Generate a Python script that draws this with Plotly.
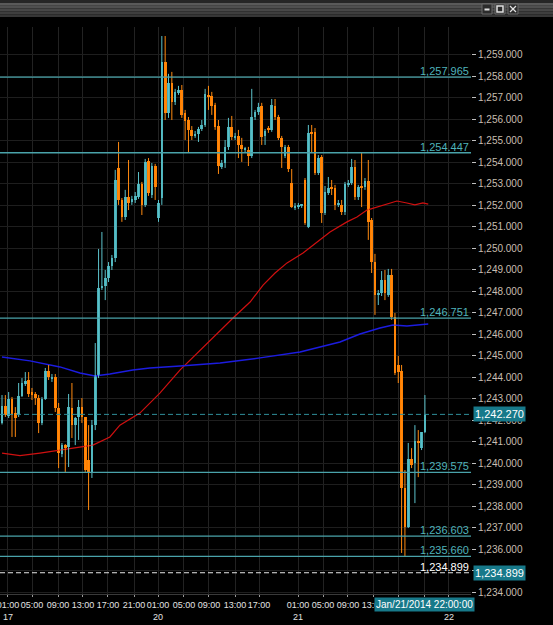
import plotly.graph_objects as go

# 30-minute bars (bar index on x)
bar_open = [
    1241.87, 1242.66, 1242.19, 1242.98, 1242.33, 1242.24, 1243.12, 1243.68, 1243.87, 1243.31,
    1243.22, 1243.03, 1241.87, 1242.98, 1244.29, 1243.92, 1244.01, 1242.57, 1240.42, 1240.84,
    1240.75, 1242.57, 1241.77, 1242.15, 1242.61, 1242.15, 1240.14, 1239.59, 1241.77, 1244.10,
    1248.15, 1248.25, 1248.62, 1249.18, 1249.55, 1253.74, 1252.25, 1251.46, 1252.39, 1252.16,
    1252.25, 1252.39, 1252.99, 1252.02, 1254.07, 1252.48, 1253.83, 1251.41, 1252.34, 1258.67,
    1256.30, 1257.70, 1256.81, 1257.23, 1257.37, 1256.30, 1255.97, 1255.51, 1255.23, 1255.32,
    1255.55, 1255.74, 1257.14, 1257.09, 1256.67, 1255.69, 1253.79, 1253.97, 1254.72, 1255.65,
    1255.18, 1255.23, 1254.81, 1254.58, 1254.58, 1254.30, 1256.11, 1256.35, 1256.63, 1255.23,
    1255.55, 1255.51, 1256.63, 1256.11, 1255.14, 1254.30, 1254.72, 1253.04, 1251.88, 1251.92,
    1251.97, 1253.18, 1250.99, 1255.37, 1255.42, 1253.51, 1254.25, 1251.64, 1252.58, 1252.81,
    1252.81, 1252.02, 1252.02, 1251.69, 1252.95, 1253.04, 1253.79, 1252.39, 1252.85, 1252.85,
    1253.13, 1251.32, 1249.36, 1247.83, 1247.92, 1248.53, 1247.83, 1248.76, 1246.80, 1244.57,
    1244.29, 1238.84, 1237.03, 1240.19, 1240.01, 1241.03, 1240.70, 1241.45,
]
bar_high = [
    1243.17, 1243.17, 1243.31, 1243.08, 1242.61, 1243.73, 1243.96, 1244.24, 1244.24, 1243.50,
    1243.31, 1243.17, 1243.08, 1244.43, 1244.57, 1244.15, 1244.15, 1242.80, 1240.94, 1240.89,
    1243.22, 1243.73, 1242.15, 1242.94, 1243.03, 1242.15, 1241.77, 1242.01, 1245.59, 1249.97,
    1250.76, 1248.99, 1249.36, 1249.69, 1253.65, 1254.95, 1252.34, 1252.72, 1254.11, 1252.44,
    1252.62, 1253.55, 1253.09, 1254.16, 1254.20, 1253.97, 1253.93, 1252.25, 1259.88, 1259.88,
    1258.12, 1258.21, 1257.42, 1257.56, 1257.60, 1256.44, 1256.11, 1255.69, 1255.46, 1255.65,
    1255.97, 1257.42, 1257.56, 1257.28, 1256.77, 1255.97, 1254.11, 1255.04, 1256.07, 1256.16,
    1255.37, 1255.51, 1255.14, 1254.72, 1254.72, 1257.42, 1256.44, 1256.77, 1256.77, 1255.55,
    1255.69, 1256.95, 1256.95, 1256.21, 1255.23, 1254.81, 1254.81, 1253.69, 1252.11, 1252.11,
    1252.06, 1253.27, 1255.74, 1255.74, 1255.60, 1254.34, 1254.34, 1252.90, 1253.32, 1253.18,
    1252.95, 1252.25, 1252.25, 1253.09, 1253.18, 1254.16, 1254.11, 1252.95, 1254.44, 1253.27,
    1254.11, 1251.41, 1249.74, 1248.06, 1248.94, 1248.99, 1249.04, 1249.04, 1246.99, 1244.99,
    1244.57, 1239.68, 1240.94, 1240.70, 1241.77, 1241.54, 1241.45, 1243.17,
]
bar_low = [
    1241.80, 1242.15, 1242.10, 1241.22, 1241.22, 1242.15, 1243.08, 1243.59, 1243.08, 1242.94,
    1242.71, 1241.40, 1241.77, 1242.94, 1243.87, 1243.78, 1242.38, 1239.77, 1240.28, 1239.59,
    1239.82, 1241.17, 1240.84, 1241.08, 1241.87, 1239.59, 1237.82, 1239.31, 1241.54, 1243.96,
    1248.06, 1247.59, 1248.43, 1248.99, 1249.36, 1252.02, 1251.23, 1251.32, 1251.78, 1252.02,
    1252.11, 1252.30, 1251.55, 1251.92, 1252.44, 1252.34, 1252.25, 1251.23, 1252.02, 1255.97,
    1256.07, 1255.97, 1256.67, 1257.14, 1256.07, 1255.04, 1254.44, 1255.04, 1255.14, 1254.95,
    1255.46, 1255.65, 1256.44, 1256.21, 1255.51, 1253.46, 1253.69, 1253.74, 1254.58, 1255.04,
    1255.04, 1254.20, 1254.02, 1254.48, 1253.83, 1254.20, 1255.97, 1256.21, 1254.81, 1254.81,
    1255.37, 1255.42, 1255.97, 1255.04, 1253.74, 1254.20, 1253.55, 1251.88, 1251.78, 1251.83,
    1251.88, 1251.09, 1250.94, 1254.48, 1253.41, 1253.41, 1251.18, 1251.55, 1252.48, 1252.48,
    1251.78, 1251.92, 1251.55, 1251.55, 1252.85, 1252.95, 1252.25, 1252.25, 1251.92, 1252.72,
    1250.39, 1248.85, 1246.90, 1247.36, 1247.78, 1247.59, 1247.74, 1246.67, 1244.10, 1243.73,
    1235.82, 1235.66, 1236.98, 1239.77, 1238.14, 1239.35, 1240.61, 1241.40,
]
bar_close = [
    1242.66, 1242.24, 1242.98, 1242.24, 1242.10, 1243.12, 1243.73, 1243.82, 1243.22, 1243.17,
    1243.03, 1241.87, 1242.98, 1244.29, 1244.01, 1244.01, 1242.57, 1240.47, 1240.84, 1240.75,
    1242.61, 1241.77, 1242.10, 1242.61, 1242.15, 1239.68, 1239.59, 1241.77, 1244.10, 1248.15,
    1248.25, 1248.62, 1249.18, 1249.55, 1253.18, 1252.25, 1251.46, 1252.39, 1252.11, 1252.30,
    1252.44, 1252.99, 1252.02, 1254.02, 1252.58, 1253.83, 1252.85, 1252.11, 1258.67, 1256.30,
    1257.70, 1256.81, 1257.28, 1257.37, 1256.21, 1255.93, 1255.51, 1255.23, 1255.32, 1255.55,
    1255.74, 1257.18, 1257.04, 1256.63, 1255.65, 1253.83, 1253.97, 1254.72, 1255.65, 1255.18,
    1255.23, 1254.81, 1254.62, 1254.62, 1254.30, 1256.11, 1256.35, 1256.58, 1255.18, 1255.46,
    1255.51, 1256.67, 1256.11, 1255.14, 1254.72, 1254.72, 1253.69, 1251.92, 1251.97, 1252.02,
    1252.02, 1251.18, 1255.37, 1255.32, 1253.51, 1254.20, 1251.64, 1252.62, 1252.81, 1252.76,
    1252.02, 1252.11, 1251.69, 1252.99, 1253.04, 1253.79, 1252.39, 1252.85, 1252.81, 1253.13,
    1251.23, 1249.36, 1247.83, 1247.92, 1248.53, 1247.92, 1248.76, 1246.80, 1244.20, 1244.24,
    1238.84, 1237.03, 1240.19, 1239.91, 1241.03, 1240.94, 1241.45, 1242.27,
]

# moving averages (bar index, value)
red_ma_bar = [0, 5.4, 11.4, 17.4, 22.5, 27.3, 32.4, 35.4, 41.4, 47.4, 53.5, 59.5, 65.5, 70,
              74.5, 78.4, 82, 85.6, 90.4, 93.1, 98.5, 103.6, 106.6, 109.6, 112.6, 115.6,
              118.6, 121.6, 124, 126.4, 128]
red_ma = [1240.47, 1240.35, 1240.47, 1240.61, 1240.75, 1240.84, 1241.22, 1241.77, 1242.33,
          1243.26, 1244.34, 1245.27, 1246.20, 1246.85, 1247.50, 1248.29, 1248.85, 1249.32,
          1249.78, 1250.11, 1250.76, 1251.23, 1251.46, 1251.78, 1251.92, 1252.06, 1252.20,
          1252.11, 1252.02, 1252.11, 1252.06]
blue_ma_bar = [0, 8.4, 17.4, 23.4, 27.9, 32.4, 39.3, 44.4, 53.5, 65.5, 77.5, 89.5, 101.5,
               107.5, 113.5, 117.4, 121.6, 128]
blue_ma = [1244.94, 1244.76, 1244.48, 1244.20, 1244.06, 1244.15, 1244.34, 1244.43, 1244.52,
           1244.66, 1244.90, 1245.17, 1245.64, 1246.01, 1246.29, 1246.43, 1246.38, 1246.48]

level_lines = [1257.965, 1254.447, 1246.751, 1239.575, 1236.603, 1235.660]
last_price = 1242.270
marker_price = 1234.899
price_ticks = list(range(1234, 1260))

tick_bars = [1.80, 9.01, 16.82, 24.32, 31.83, 39.64, 46.85, 54.65, 62.16, 69.97, 77.18,
             88.89, 96.40, 103.90, 111.41, 118.92, 126.73, 134.23]
tick_text = ['01:00<br>17', '05:00', '09:00', '13:00', '17:00', '21:00',
             '01:00<br>20', '05:00', '09:00', '13:00', '17:00',
             '01:00<br>21', '05:00', '09:00', '13:00', '17:00', '21:00', '01:00<br>22']
cursor_bar = 126.73
cursor_text = 'Jan/21/2014 22:00:00'

TEAL = '#4aaeb6'
LEVEL = '#4aa3aa'
ORANGE = '#ff8000'
FONT = 'Liberation Sans, Arial, sans-serif'

PLOT_W, PLOT_TOP, PLOT_BOTTOM = 471, 27, 594


def px(x):
    return x / PLOT_W


def py(y):
    return (PLOT_BOTTOM - y) / (PLOT_BOTTOM - PLOT_TOP)


fig = go.Figure()

fig.add_trace(go.Scatter(x=red_ma_bar, y=red_ma, mode='lines',
                         line=dict(color='#d01010', width=1.2), hoverinfo='skip'))
fig.add_trace(go.Scatter(x=blue_ma_bar, y=blue_ma, mode='lines',
                         line=dict(color='#1c1ce0', width=1.5), hoverinfo='skip'))

# candles: wicks as broken lines, bodies as floating bars
for up, color, wick in ((True, TEAL, '#5cc3cb'), (False, ORANGE, '#ff8a10')):
    idx = [i for i in range(len(bar_close)) if (bar_close[i] >= bar_open[i]) == up]
    wx, wy = [], []
    for i in idx:
        wx += [i, i, None]
        wy += [bar_low[i], bar_high[i], None]
    fig.add_trace(go.Scatter(x=wx, y=wy, mode='lines', line=dict(color=wick, width=1),
                             hoverinfo='skip'))
    fig.add_trace(go.Bar(
        x=idx,
        base=[min(bar_open[i], bar_close[i]) for i in idx],
        y=[max(abs(bar_close[i] - bar_open[i]), 0.06) for i in idx],
        width=0.8, marker=dict(color=color, line=dict(width=0)),
    ))

shapes = []
annotations = []

for v in level_lines:
    shapes.append(dict(type='line', xref='paper', x0=0, x1=1, yref='y', y0=v, y1=v,
                       line=dict(color=LEVEL, width=1.3)))
    annotations.append(dict(xref='paper', x=1, xanchor='right', yref='y', y=v,
                            yanchor='bottom', yshift=-2, text=f'{v:,.3f}', showarrow=False,
                            font=dict(family=FONT, size=11, color='#4fb3bb')))

shapes.append(dict(type='line', xref='paper', x0=0, x1=1, yref='y', y0=last_price,
                   y1=last_price, line=dict(color='#2f8f9a', width=1, dash='5px,3px')))
shapes.append(dict(type='line', xref='paper', x0=0, x1=1, yref='y', y0=marker_price,
                   y1=marker_price, line=dict(color='#e8e8e8', width=1, dash='5px,3px')))
annotations.append(dict(xref='paper', x=1, xanchor='right', yref='y', y=marker_price,
                        yanchor='bottom', yshift=-2, text=f'{marker_price:,.3f}',
                        showarrow=False, font=dict(family=FONT, size=11, color='white')))

for v in (last_price, marker_price):
    annotations.append(dict(xref='paper', x=1, xanchor='left', xshift=2, yref='y', y=v,
                            yanchor='middle', text=f'{v:,.3f}', showarrow=False,
                            bgcolor='#17798a', borderpad=1,
                            font=dict(family=FONT, size=11, color='white')))

annotations.append(dict(xref='x', x=cursor_bar, xanchor='center', yref='paper', y=py(597),
                        yanchor='top', text=cursor_text, showarrow=False,
                        bgcolor='#17798a', borderpad=1,
                        font=dict(family=FONT, size=10, color='white')))

# window title bar
bands = ['#5a5a5a', '#505050', '#474747', '#3e3e3e', '#363636']
for k, c in enumerate(bands):
    shapes.append(dict(type='rect', xref='paper', yref='paper', x0=0, x1=px(553),
                       y0=py(3 + 14 * (k + 1) / len(bands)), y1=py(3 + 14 * k / len(bands)),
                       fillcolor=c, line=dict(width=0), layer='above'))
shapes.append(dict(type='rect', xref='paper', yref='paper', x0=0, x1=px(553),
                   y0=py(3), y1=py(0), fillcolor='#262626', line=dict(width=0), layer='above'))
for x0 in (482, 495, 508):
    shapes.append(dict(type='rect', xref='paper', yref='paper', x0=px(x0), x1=px(x0 + 10),
                       y0=py(14), y1=py(4), fillcolor='#2c2c2c',
                       line=dict(color='#6a6a6a', width=1), layer='above'))
shapes.append(dict(type='line', xref='paper', yref='paper', x0=px(484.5), x1=px(489.5),
                   y0=py(9.5), y1=py(9.5), line=dict(color='#e0e0e0', width=2), layer='above'))
shapes.append(dict(type='rect', xref='paper', yref='paper', x0=px(497), x1=px(503),
                   y0=py(12), y1=py(6), line=dict(color='#e0e0e0', width=1.5), layer='above'))
shapes.append(dict(type='line', xref='paper', yref='paper', x0=px(510), x1=px(516),
                   y0=py(12), y1=py(6), line=dict(color='#e0e0e0', width=1.3), layer='above'))
shapes.append(dict(type='line', xref='paper', yref='paper', x0=px(510), x1=px(516),
                   y0=py(6), y1=py(12), line=dict(color='#e0e0e0', width=1.3), layer='above'))

fig.update_layout(
    width=553, height=625,
    margin=dict(l=0, r=553 - PLOT_W, t=PLOT_TOP, b=625 - PLOT_BOTTOM, pad=0),
    paper_bgcolor='black', plot_bgcolor='black',
    showlegend=False, barmode='overlay', bargap=0,
    shapes=shapes, annotations=annotations,
    font=dict(family=FONT),
    xaxis=dict(
        range=[-0.6, 140.84], tickmode='array', tickvals=tick_bars, ticktext=tick_text,
        tickangle=0, automargin=False, ticklabeloverflow='allow',
        ticks='outside', ticklen=2, tickcolor='#9a9a9a',
        tickfont=dict(family=FONT, size=9, color='#e2e2e2'),
        showgrid=True, gridcolor='#222222', gridwidth=1, zeroline=False,
        showline=True, linecolor='#3a3a3a', linewidth=1,
    ),
    yaxis=dict(
        side='right', range=[1233.91, 1260.3], tickmode='array', tickvals=price_ticks,
        tickformat=',.3f', ticks='outside', ticklen=4, tickcolor='#c0c0c0', automargin=False,
        tickfont=dict(family=FONT, size=10, color='#c8beb0'),
        showgrid=True, gridcolor='#1e1e1e', gridwidth=1, zeroline=False, showline=False,
    ),
)

fig.write_html("out.html", config={'displayModeBar': False},
               post_script="document.body.style.margin='0';")
